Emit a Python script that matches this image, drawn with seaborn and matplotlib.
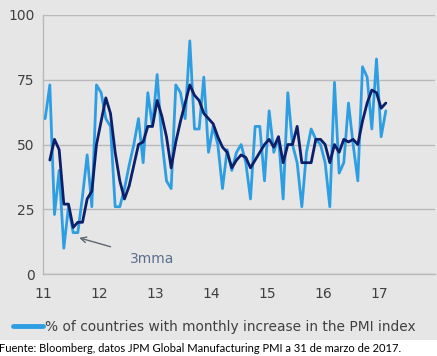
import numpy as np
import pandas as pd
import seaborn as sns
import matplotlib
matplotlib.use('Agg')
from matplotlib import pyplot as plt
from matplotlib.patches import Rectangle

"""
Data (read off the picture), monthly Jan 2011 - Feb 2017
"""
months = pd.date_range('2011-01-01', periods=74, freq='MS')
pct_increase = [60, 73, 23, 40, 10, 26, 16, 16, 30, 46, 26, 73,
                70, 60, 57, 26, 26, 33, 42, 50, 60, 43, 70, 57,
                77, 52, 36, 33, 73, 70, 60, 90, 56, 56, 76, 47,
                57, 50, 33, 48, 40, 47, 50, 43, 29, 57, 57, 36,
                63, 47, 53, 29, 70, 50, 43, 26, 47, 56, 52, 50,
                43, 26, 74, 39, 43, 66, 50, 36, 80, 76, 56, 83,
                53, 63]
mma3 = [np.nan, 44, 52, 48, 27, 27, 18, 20, 20, 29, 32, 50,
        59, 68, 62, 47, 36, 29, 34, 42, 50, 51, 57, 57,
        67, 61, 53, 41, 51, 59, 66, 73, 69, 67, 62, 60,
        58, 53, 49, 47, 41, 44, 46, 45, 41, 44, 47, 50,
        52, 49, 53, 43, 50, 50, 57, 43, 43, 43, 52, 52,
        50, 43, 50, 47, 52, 51, 52, 50, 59, 66, 71, 70,
        64, 66]
year_ticks = [11, 12, 13, 14, 15, 16, 17]
legend_label = '% of countries with monthly increase in the PMI index'
source_text = 'Fuente: Bloomberg, datos JPM Global Manufacturing PMI a 31 de marzo de 2017.'

df = pd.DataFrame({
    'x': months.year - 2000 + (months.month - 0.5) / 12,
    'pct': pct_increase,
    'mma': mma3,
})

"""
Plot
"""
sns.set_style('white')
plt.rcParams['font.family'] = ['DejaVu Sans']
bg = '#e6e6e6'
grid_c = '#b9b9b9'
txt_c = '#404040'

fig = plt.figure(figsize=(4.37, 3.56), dpi=100, facecolor=bg)
fig.patches.append(Rectangle((0, 0), 1, 0.045, transform=fig.transFigure,
                             facecolor='white', edgecolor='none', zorder=-10))
ax = fig.add_axes([0.098, 0.230, 0.897, 0.728])
ax.set_facecolor(bg)

sns.lineplot(data=df, x='x', y='pct', ax=ax, color='#2e9ee3', lw=2.0,
             label=legend_label, zorder=3)
sns.lineplot(data=df, x='x', y='mma', ax=ax, color='#0b1f6b', lw=2.0,
             label='_nolegend_', zorder=4)

ax.set_xlim(11, 18)
ax.set_ylim(0, 100)
ax.set_yticks([0, 25, 50, 75, 100])
ax.set_xticks(year_ticks + [18])
ax.set_xticklabels([str(t) for t in year_ticks] + [''])
ax.yaxis.grid(True, color=grid_c, lw=1.0)
ax.set_axisbelow(True)
for s in ['top', 'right']:
    ax.spines[s].set_visible(False)
for s in ['left', 'bottom']:
    ax.spines[s].set_color(grid_c)
    ax.spines[s].set_linewidth(1.0)
ax.tick_params(axis='x', length=4, color=grid_c, colors=txt_c, labelsize=10, pad=5)
ax.tick_params(axis='y', length=0, colors=txt_c, labelsize=10, pad=6)
ax.set_xlabel('')
ax.set_ylabel('')

ax.annotate('3mma', xy=(11.65, 14), xytext=(12.95, 6), color='#5b6e8c',
            fontsize=10, ha='center', va='center',
            arrowprops=dict(arrowstyle='->', color='#5f6670', lw=1.0,
                            shrinkA=12, shrinkB=0))

handles, labels = ax.get_legend_handles_labels()
ax.get_legend().remove()
leg = fig.legend(handles, labels, loc='center left', bbox_to_anchor=(0.03, 0.081),
                 frameon=False, fontsize=9.9, handlelength=2.2, handletextpad=0.15,
                 borderpad=0, borderaxespad=0, labelcolor=txt_c)
for h in leg.legend_handles:
    h.set_linewidth(3.5)

fig.text(-0.003, 0.022, source_text, fontsize=8.0, family=['Lato', 'DejaVu Sans'],
         color='black', va='center', ha='left')

plt.savefig('out.png', dpi=100, facecolor=fig.get_facecolor())
